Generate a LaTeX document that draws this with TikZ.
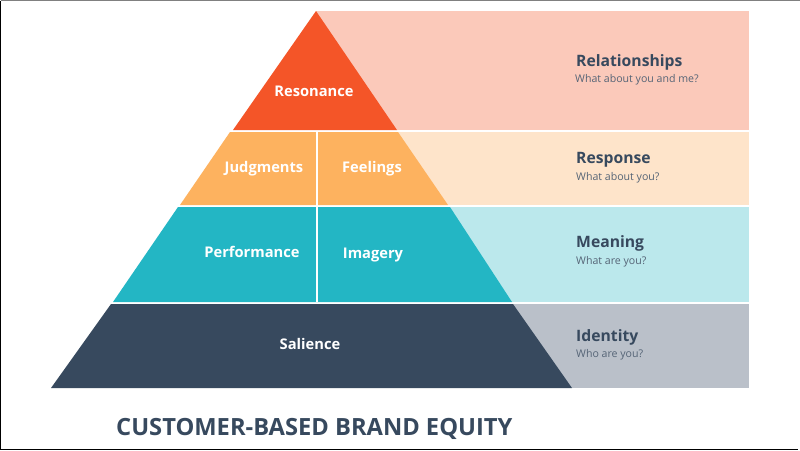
\documentclass[tikz,border=0pt]{standalone}
\usepackage{fontspec}
\setmainfont{Open Sans}
\definecolor{reso}{HTML}{F45528}
\definecolor{reso light}{HTML}{FBC9BA}
\definecolor{judg}{HTML}{FDB25F}
\definecolor{judg light}{HTML}{FEE4CA}
\definecolor{perf}{HTML}{23B6C4}
\definecolor{perf light}{HTML}{BBE8EC}
\definecolor{sali}{HTML}{37495E}
\definecolor{sali light}{HTML}{BAC0C9}
\begin{document}
\begin{tikzpicture}[x=1pt,y=-1pt,
        inner label/.style={text=white,font=\fontsize{14.7}{16}\selectfont\bfseries,inner sep=0pt},
        side title/.style={text=sali,font=\fontsize{15.7}{17}\selectfont\bfseries,anchor=west,inner sep=0pt},
        side text/.style={text=sali!85,font=\fontsize{10.6}{12}\selectfont,anchor=west,inner sep=0pt},
        divider/.style={draw=white,line width=2.4pt}]
    \useasboundingbox (0,0) rectangle (800,450);
    \fill[white] (0,0) rectangle (800,450);

    % frame
    \coordinate (tl) at (0.5,0.7);
    \coordinate (tr) at (799.5,0.7);
    \coordinate (bl) at (0.5,449.2);
    \coordinate (br) at (798,449.2);
    \draw[gray,line width=1.4pt] (tl) -- (tr);
    \draw[black,line width=1.2pt] (tl) -- (bl) -- (br);

    % bands
    \fill[reso light] (316,11) rectangle (749,130);
    \fill[judg light] (396,132) rectangle (749,205);
    \fill[perf light] (449,207) rectangle (749,302);
    \fill[sali light] (513,304) rectangle (749,388);

    % pyramid
    \fill[reso] (316,11) -- (397,130) -- (233,130) -- cycle;
    \fill[judg] (230,132) -- (398,132) -- (448,205) -- (180,205) -- cycle;
    \fill[perf] (178,207) -- (450,207) -- (512,302) -- (113,302) -- cycle;
    \fill[sali] (111,304) -- (513,304) -- (572,388) -- (51,388) -- cycle;
    \coordinate (m1) at (316.8,131);
    \coordinate (m2) at (316.8,302);
    \draw[divider] (m1) -- (m2);

    \node[inner label] (resonance) at (314,91) {Resonance};
    \node[inner label] (judgments) at (264,169) {Judgments};
    \node[inner label] (feelings) at (372,169) {Feelings};
    \node[inner label] (performance) at (252,252) {Performance};
    \node[inner label] (imagery) at (373,255) {Imagery};
    \node[inner label] (salience) at (310,344) {Salience};

    \node[side title] (relationships) at (576,62) {Relationships};
    \node[side text] (relationships q) at (575,80) {What about you and me?};
    \node[side title] (response) at (576,160) {Response};
    \node[side text] (response q) at (576,178) {What about you?};
    \node[side title] (meaning) at (576,243) {Meaning};
    \node[side text] (meaning q) at (576,262) {What are you?};
    \node[side title] (identity) at (576,337) {Identity};
    \node[side text] (identity q) at (576,355) {Who are you?};

    \node[text=sali,font=\fontsize{23.7}{26}\selectfont\bfseries,anchor=west,inner sep=0pt] (title) at (116,429) {CUSTOMER-BASED BRAND EQUITY};
\end{tikzpicture}
\end{document}
